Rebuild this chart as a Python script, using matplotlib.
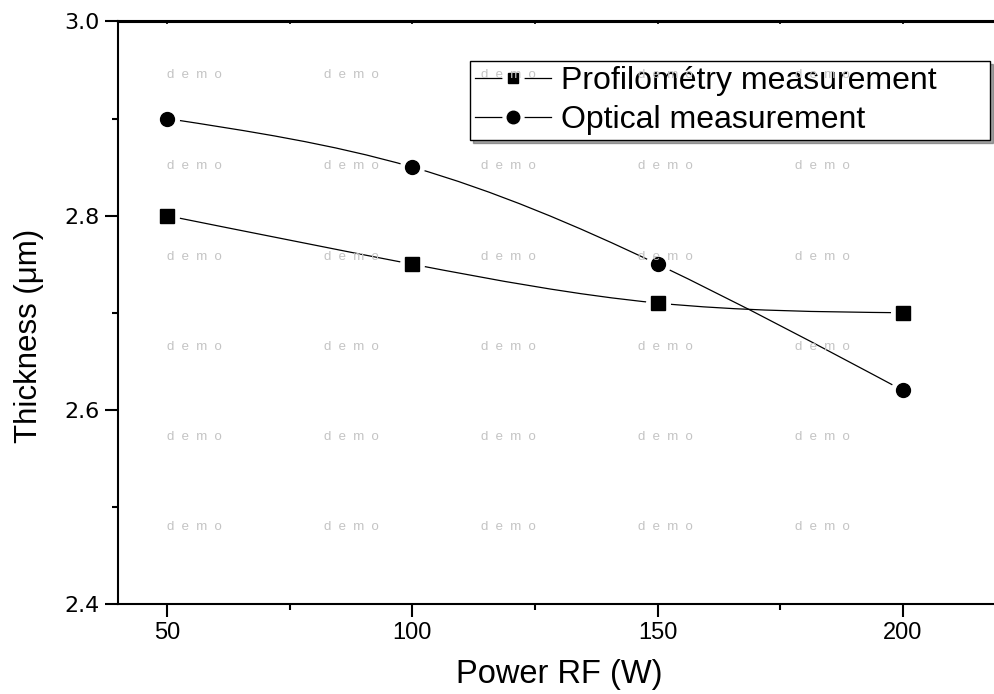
import numpy as np
import matplotlib
matplotlib.use("Agg")
import matplotlib.pyplot as plt
from matplotlib.path import Path
from matplotlib.patches import PathPatch
from matplotlib.lines import Line2D
from matplotlib.legend_handler import HandlerTuple

plt.rcParams['font.family'] = ['Liberation Sans', 'DejaVu Sans']

# data
power = [50, 100, 150, 200]
profilometry = [2.80, 2.75, 2.71, 2.70]
optical = [2.90, 2.85, 2.75, 2.62]
labels = ["Profilométry measurement", "Optical measurement"]
yticks = [2.4, 2.6, 2.8, 3.0]
xticks = [50, 100, 150, 200]


def spline_path(x, y):
    # natural cubic spline written as bezier segments (like Origin's spline line)
    x = np.asarray(x, float)
    y = np.asarray(y, float)
    n = len(x)
    h = np.diff(x)
    A = np.zeros((n, n))
    b = np.zeros(n)
    A[0, 0] = A[-1, -1] = 1
    for i in range(1, n - 1):
        A[i, i - 1] = h[i - 1]
        A[i, i] = 2 * (h[i - 1] + h[i])
        A[i, i + 1] = h[i]
        b[i] = 6 * ((y[i + 1] - y[i]) / h[i] - (y[i] - y[i - 1]) / h[i - 1])
    M = np.linalg.solve(A, b)
    d = np.zeros(n)
    for i in range(n - 1):
        d[i] = (y[i + 1] - y[i]) / h[i] - h[i] / 6 * (2 * M[i] + M[i + 1])
    d[-1] = (y[-1] - y[-2]) / h[-1] + h[-1] / 6 * (M[-2] + 2 * M[-1])
    verts = [(x[0], y[0])]
    codes = [Path.MOVETO]
    for i in range(n - 1):
        verts += [(x[i] + h[i] / 3, y[i] + d[i] * h[i] / 3),
                  (x[i + 1] - h[i] / 3, y[i + 1] - d[i + 1] * h[i] / 3),
                  (x[i + 1], y[i + 1])]
        codes += [Path.CURVE4] * 3
    return Path(verts, codes)


fig = plt.figure(figsize=(9.94, 6.94), dpi=100)
W, H = 994, 694
ax = fig.add_axes([118 / W, 90 / H, (1001 - 118) / W, (672.5 - 90) / H])

handles = []
for vals, mk, ms, lms in [(profilometry, 's', 9.4, 7), (optical, 'o', 10, 9)]:
    ax.add_patch(PathPatch(spline_path(power, vals), fill=False, ec='black', lw=0.9, zorder=2))
    ax.plot(power, vals, ls='none', marker='o', ms=17, mfc='white', mec='white', zorder=3)
    ax.plot(power, vals, ls='none', marker=mk, ms=ms, color='black', zorder=4)
    h_line = Line2D([], [], color='black', lw=0.9)
    h_halo = Line2D([], [], ls='none', marker='o', ms=15, mfc='white', mec='white')
    h_mk = Line2D([], [], ls='none', marker=mk, ms=lms, color='black')
    handles.append((h_line, h_halo, h_mk))

ax.set_xlim(40, 220)
ax.set_ylim(2.4, 3.0)
ax.set_xticks(xticks)
ax.set_xticks([75, 125, 175], minor=True)
ax.set_yticks(yticks)
ax.set_yticks([2.5, 2.7, 2.9], minor=True)
ax.set_yticklabels([f"{v:.1f}" for v in yticks], family='DejaVu Sans', fontsize=16)
ax.tick_params(axis='x', which='major', direction='out', length=9, width=1.5, labelsize=17, pad=4)
ax.tick_params(axis='x', which='minor', direction='out', length=4.5, width=1.5)
ax.tick_params(axis='y', which='major', direction='out', length=9.5, width=1.5, pad=4)
ax.tick_params(axis='y', which='minor', direction='out', length=4, width=1.5)
for s in ax.spines.values():
    s.set_linewidth(1.5)

sec = ax.secondary_xaxis('top')
sec.set_xticks(xticks)
sec.set_xticks([75, 125, 175], minor=True)
sec.tick_params(which='both', direction='in', length=2.5, width=1.2, labeltop=False)
sec.spines['top'].set_linewidth(1.5)

ax.set_xlabel("Power RF (W)", fontsize=23.5, labelpad=11)
ax.set_ylabel("Thickness (μm)", fontsize=22.5, labelpad=14)
ax.yaxis.label.set_y(0.46)

leg = fig.legend(handles, labels, handler_map={tuple: HandlerTuple(ndivide=1)},
                 loc='upper left', bbox_to_anchor=(470 / W, 1 - 61 / H - 0.05, (990 - 470) / W, 0.05),
                 mode='expand', fontsize=23, frameon=True, fancybox=False, shadow=True,
                 borderpad=0.15, labelspacing=0.3, handlelength=2.4, handletextpad=0.3,
                 borderaxespad=0, handleheight=0.7)
leg.get_frame().set_edgecolor('black')
leg.get_frame().set_linewidth(1.0)

# watermark grid
wm_x = [194, 351, 508, 665, 822]
wm_y = [75, 166, 257, 347, 437, 527]
for yy in wm_y:
    for xx in wm_x:
        fig.text(xx / W, 1 - yy / H, "d  e  m  o", fontsize=9.5, color='#c4c4c4',
                 ha='center', va='center', zorder=10)

fig.savefig("out.png", dpi=100)
